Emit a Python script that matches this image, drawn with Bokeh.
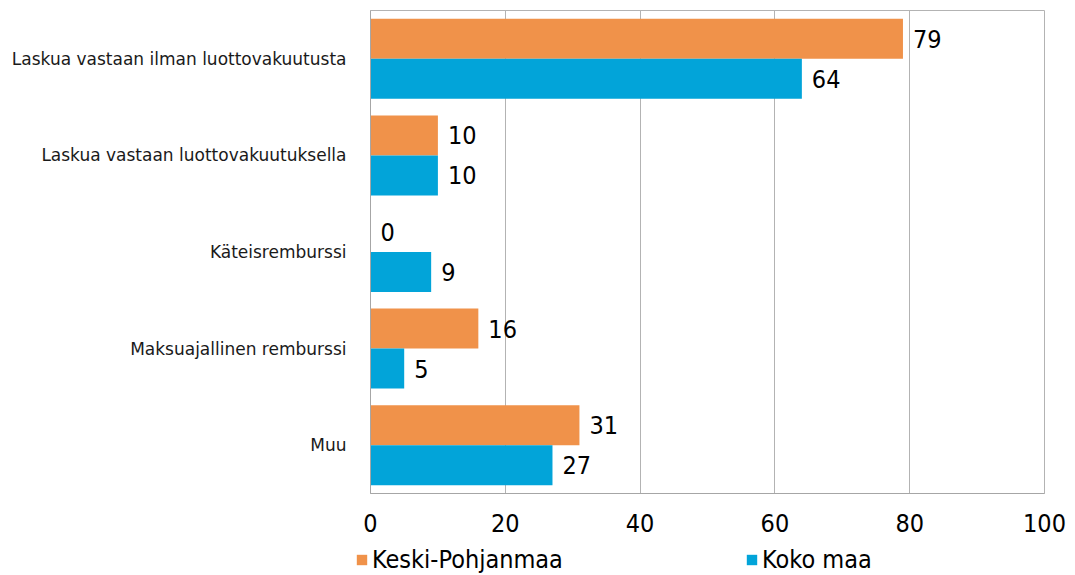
from bokeh.plotting import figure
from bokeh.models import ColumnDataSource, FactorRange, Range1d, Legend, LegendItem, FixedTicker
from bokeh.layouts import column, row
from bokeh.transform import dodge
from bokeh.core.properties import value
from bokeh.embed import file_html
from bokeh.resources import INLINE

categories = [
    "Laskua vastaan ilman luottovakuutusta",
    "Laskua vastaan luottovakuutuksella",
    "Käteisremburssi",
    "Maksuajallinen remburssi",
    "Muu",
]
keski_pohjanmaa = [79, 10, 0, 16, 31]
koko_maa = [64, 10, 9, 5, 27]
series_names = ["Keski-Pohjanmaa", "Koko maa"]
x_ticks = [0, 20, 40, 60, 80, 100]

ORANGE = "#F0924A"
BLUE = "#02A4D9"
NUM_FONT = "DejaVu Sans Condensed"
CAT_FONT = "DejaVu Sans"

src = ColumnDataSource(dict(
    cat=categories,
    kp=keski_pohjanmaa,
    km=koko_maa,
    kp_txt=[str(v) for v in keski_pohjanmaa],
    km_txt=[str(v) for v in koko_maa],
))

p = figure(
    width=1075, height=545,
    y_range=FactorRange(factors=list(reversed(categories))),
    x_range=Range1d(0, 100),
    output_backend="svg", toolbar_location=None,
    min_border_left=370, min_border_right=31,
    min_border_top=10, min_border_bottom=52,
)

bh = 0.414
r1 = p.hbar(y=dodge("cat", bh / 2, range=p.y_range), right="kp", left=0, height=bh,
            source=src, fill_color=ORANGE, line_color=None)
r2 = p.hbar(y=dodge("cat", -bh / 2, range=p.y_range), right="km", left=0, height=bh,
            source=src, fill_color=BLUE, line_color=None)

p.text(x="kp", y=dodge("cat", bh / 2, range=p.y_range), text="kp_txt", source=src,
       x_offset=10, text_baseline="middle", text_font=value(NUM_FONT),
       text_font_size="25px", text_color="#000000")
p.text(x="km", y=dodge("cat", -bh / 2, range=p.y_range), text="km_txt", source=src,
       x_offset=10, text_baseline="middle", text_font=value(NUM_FONT),
       text_font_size="25px", text_color="#000000")

p.xaxis.ticker = FixedTicker(ticks=x_ticks)
p.xaxis.major_label_text_font = NUM_FONT
p.xaxis.major_label_text_font_size = "25px"
p.xaxis.major_label_text_color = "#000000"
p.xaxis.major_tick_line_color = None
p.xaxis.minor_tick_line_color = None
p.xaxis.axis_line_color = "#A6A6A6"
p.xaxis.major_label_standoff = 14

p.yaxis.major_label_text_font = CAT_FONT
p.yaxis.major_label_text_font_size = "17px"
p.yaxis.major_label_text_color = "#1A1A1A"
p.yaxis.major_tick_line_color = None
p.yaxis.minor_tick_line_color = None
p.yaxis.axis_line_color = "#A6A6A6"
p.yaxis.major_label_standoff = 18

p.ygrid.grid_line_color = None
p.xgrid.grid_line_color = "#B3B3B3"
p.xgrid.grid_line_width = 1
p.outline_line_color = "#B3B3B3"
p.outline_line_width = 1

# legend strip below the chart (its own small figure, frame spanning full width)
leg = figure(width=1075, height=30, x_range=Range1d(0, 1), y_range=Range1d(0, 1),
             output_backend="svg", toolbar_location=None,
             min_border_left=0, min_border_right=0, min_border_top=0, min_border_bottom=0)
leg.xaxis.visible = False
leg.yaxis.visible = False
leg.grid.grid_line_color = None
leg.outline_line_color = None
# a single off-range bar so the legend swatches get drawn (the bar itself is clipped)
sw = ColumnDataSource(dict(y=[-10.0], left=[-11.0], right=[-10.0]))
l1 = leg.hbar(y="y", left="left", right="right", height=0.1, source=sw,
              fill_color=ORANGE, line_color=None)
l2 = leg.hbar(y="y", left="left", right="right", height=0.1, source=sw,
              fill_color=BLUE, line_color=None)
lg = Legend(items=[LegendItem(label=series_names[0], renderers=[l1]),
                   LegendItem(label=series_names[1], renderers=[l2])],
            location=(355, 1), orientation="horizontal",
            background_fill_alpha=0, border_line_color=None,
            padding=0, margin=0, spacing=0, glyph_width=13, glyph_height=13,
            label_standoff=4, label_width=373, label_text_font=NUM_FONT,
            label_text_font_size="25px", label_text_color="#000000",
            label_height=25)
leg.add_layout(lg)

layout = column(p, row(leg, spacing=0), spacing=0)
open("out.html", "w").write(file_html(layout, INLINE))
